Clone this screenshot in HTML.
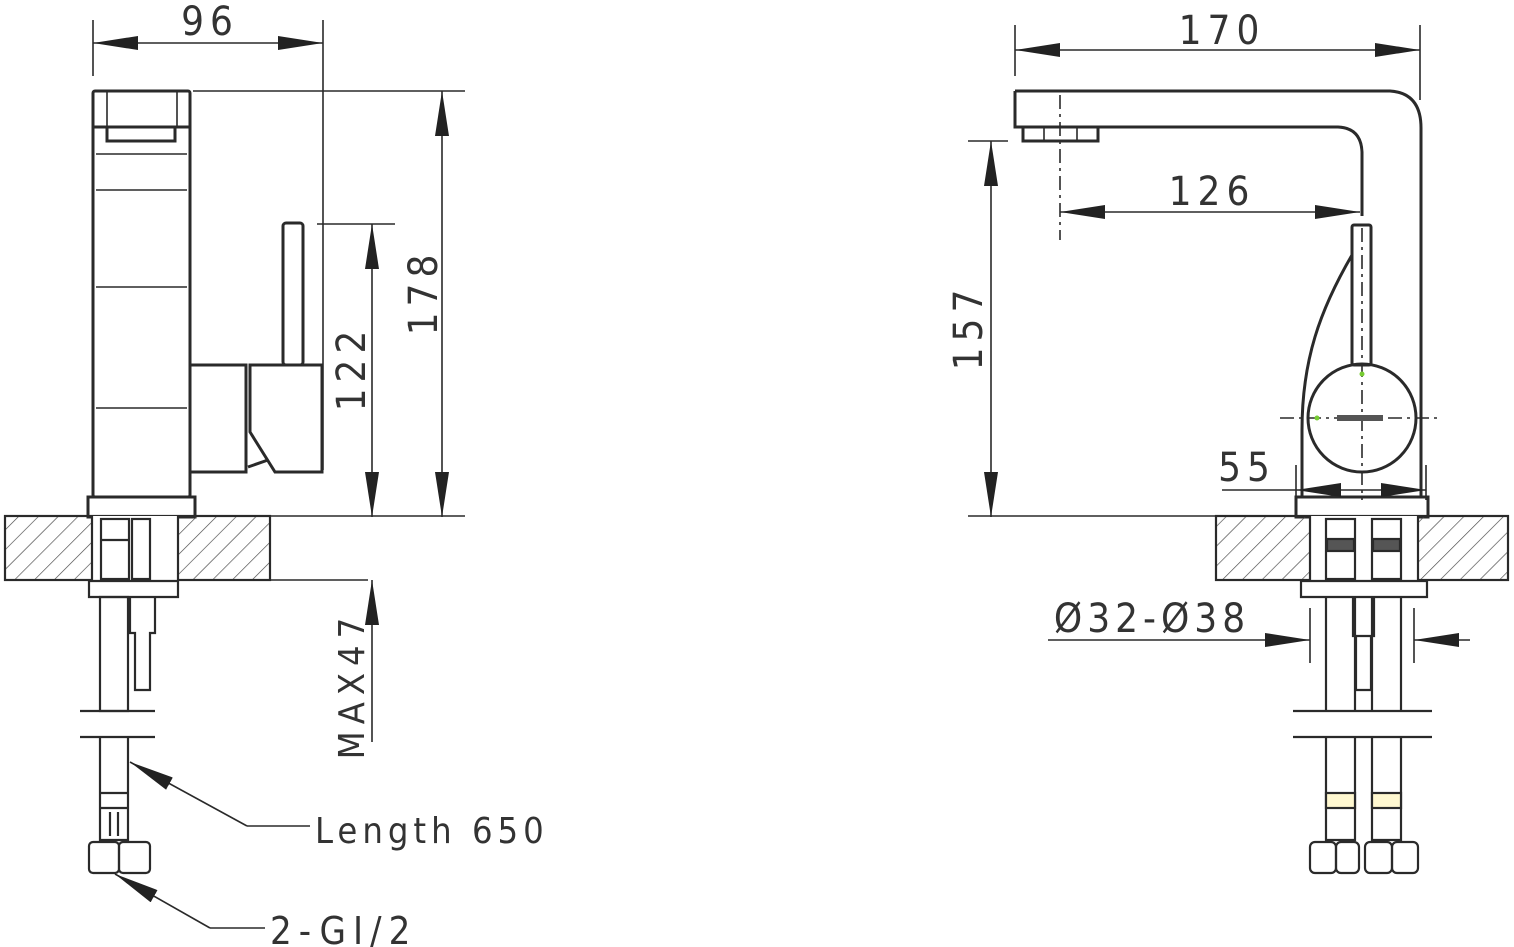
<!DOCTYPE html>
<html><head><meta charset="utf-8"><style>
html,body{margin:0;padding:0;background:#fff;}
svg{display:block;}
text{font-family:"DejaVu Sans Condensed","Liberation Sans",sans-serif;fill:#333;font-weight:300;}
</style></head><body>
<svg width="1514" height="947" viewBox="0 0 1514 947" xmlns="http://www.w3.org/2000/svg">
<defs>
<pattern id="h" patternUnits="userSpaceOnUse" width="14" height="14" patternTransform="rotate(45)">
<line x1="0" y1="0" x2="0" y2="14" stroke="#444" stroke-width="1.3"/>
</pattern>
<marker id="a" viewBox="0 0 45 14" refX="45" refY="7" markerWidth="45" markerHeight="14" markerUnits="userSpaceOnUse" orient="auto-start-reverse" preserveAspectRatio="none">
<path d="M0,0 L45,7 L0,14 Z" fill="#222"/>
</marker>
</defs>
<g fill="none" stroke="#2a2a2a" stroke-width="1.6">
<!-- LEFT VIEW -->
<line x1="93" y1="20" x2="93" y2="76"/>
<line x1="323" y1="20" x2="323" y2="470"/>
<line x1="93" y1="43" x2="323" y2="43" marker-start="url(#a)" marker-end="url(#a)"/>
<g stroke-width="3">
<rect x="93" y="91" width="97" height="406" rx="2"/>
<rect x="88" y="497" width="107" height="20"/>
<rect x="107" y="127" width="68" height="14"/>
<line x1="93" y1="127" x2="190" y2="127"/>
<rect x="283" y="223" width="20" height="142" rx="3"/>
<rect x="190" y="365" width="56" height="107"/>
<path d="M250,365 H322 V472 H275 L250,432 Z"/>
<path d="M248,467 L268,460"/>
</g>
<line x1="107" y1="91" x2="107" y2="127"/>
<line x1="177" y1="91" x2="177" y2="127"/>
<line x1="96" y1="154" x2="187" y2="154"/>
<line x1="96" y1="190" x2="187" y2="190"/>
<line x1="96" y1="287" x2="187" y2="287"/>
<line x1="96" y1="408" x2="187" y2="408"/>
<line x1="193" y1="91" x2="465" y2="91"/>
<line x1="442" y1="91" x2="442" y2="517" marker-start="url(#a)" marker-end="url(#a)"/>
<line x1="317" y1="224" x2="395" y2="224"/>
<line x1="372" y1="224" x2="372" y2="517" marker-start="url(#a)" marker-end="url(#a)"/>
<line x1="270" y1="516" x2="465" y2="516"/>
<line x1="178" y1="580" x2="368" y2="580"/>
<line x1="372" y1="742" x2="372" y2="580" marker-end="url(#a)"/>
<rect x="5" y="516" width="265" height="64" fill="url(#h)" stroke-width="2.2"/>
<rect x="92" y="516" width="86" height="64" fill="#fff" stroke="none"/>
<line x1="92" y1="516" x2="92" y2="580" stroke-width="2.2"/>
<line x1="178" y1="516" x2="178" y2="580" stroke-width="2.2"/>
<g stroke-width="2.2">
<rect x="101" y="519" width="28" height="60"/>
<rect x="132" y="519" width="18" height="60"/>
<line x1="101" y1="540" x2="129" y2="540"/>
<path d="M89,581 H178 V597 H89 Z"/>
<rect x="100" y="597" width="28" height="114"/>
<path d="M130,597 V633 H135 V690 H150 V633 H155 V597"/>
<line x1="80" y1="711" x2="155" y2="711"/>
<line x1="80" y1="737" x2="155" y2="737"/>
<path d="M100,737 V840 H128 V737"/>
<line x1="100" y1="793" x2="128" y2="793"/>
<line x1="100" y1="808" x2="128" y2="808"/>
<line x1="110" y1="812" x2="110" y2="836"/>
<line x1="118" y1="812" x2="118" y2="836"/>
<rect x="89" y="842" width="30" height="31" rx="4"/>
<rect x="119" y="842" width="31" height="31" rx="4"/>
</g>
<polyline points="247,826 310,826"/>
<line x1="247" y1="826" x2="130" y2="762" marker-end="url(#a)"/>
<polyline points="210,928 265,928"/>
<line x1="210" y1="928" x2="115" y2="874" marker-end="url(#a)"/>

<!-- RIGHT VIEW -->
<line x1="1015" y1="25" x2="1015" y2="76"/>
<line x1="1420" y1="25" x2="1420" y2="100"/>
<line x1="1015" y1="50" x2="1420" y2="50" marker-start="url(#a)" marker-end="url(#a)"/>
<g stroke-width="3">
<path d="M1015,91 H1390 Q1421,93 1421,128 V497"/>
<path d="M1015,91 V127 H1338 Q1361,128 1362,152 V216"/>
<rect x="1023" y="127" width="75" height="14"/>
<rect x="1352" y="225" width="19" height="140" rx="2"/>
<circle cx="1362" cy="418" r="54"/>
<path d="M1352,255 C1320,310 1302,360 1302,430 V497"/>
<rect x="1296" y="497" width="132" height="20"/>
</g>
<line x1="1044" y1="127" x2="1044" y2="141"/><line x1="1077" y1="127" x2="1077" y2="141"/>
<line x1="1060" y1="95" x2="1060" y2="240" stroke-dasharray="14,5,3,5"/>
<line x1="1362" y1="228" x2="1362" y2="500" stroke-dasharray="14,5,3,5"/>
<line x1="1280" y1="418" x2="1442" y2="418" stroke-dasharray="14,5,3,5"/>
<line x1="968" y1="141" x2="1008" y2="141"/>
<line x1="991" y1="141" x2="991" y2="517" marker-start="url(#a)" marker-end="url(#a)"/>
<line x1="1060" y1="212" x2="1360" y2="212" marker-start="url(#a)" marker-end="url(#a)"/>
<line x1="1296" y1="465" x2="1296" y2="500"/>
<line x1="1426" y1="465" x2="1426" y2="500"/>
<line x1="1222" y1="490" x2="1296" y2="490"/>
<line x1="1296" y1="490" x2="1426" y2="490" marker-start="url(#a)" marker-end="url(#a)"/>
<line x1="968" y1="516" x2="1216" y2="516"/>
<rect x="1216" y="516" width="292" height="64" fill="url(#h)" stroke-width="2.2"/>
<rect x="1310" y="516" width="108" height="64" fill="#fff" stroke="none"/>
<line x1="1310" y1="516" x2="1310" y2="580" stroke-width="2.2"/>
<line x1="1418" y1="516" x2="1418" y2="580" stroke-width="2.2"/>
<g stroke-width="2.2">
<rect x="1326" y="519" width="29" height="60"/>
<rect x="1372" y="519" width="29" height="60"/>
<rect x="1327" y="539" width="27" height="12" fill="#555"/>
<rect x="1373" y="539" width="27" height="12" fill="#555"/>
<path d="M1301,581 H1427 V597 H1301 Z"/>
<line x1="1326" y1="597" x2="1326" y2="711"/><line x1="1355" y1="597" x2="1355" y2="711"/>
<line x1="1372" y1="597" x2="1372" y2="711"/><line x1="1401" y1="597" x2="1401" y2="711"/>
<path d="M1353,597 V636 H1374 V597"/>
<path d="M1356,636 V690 H1371 V636"/>
<line x1="1293" y1="711" x2="1432" y2="711"/>
<line x1="1293" y1="737" x2="1432" y2="737"/>
<path d="M1326,737 V840 H1355 V737"/>
<path d="M1372,737 V840 H1401 V737"/>
<rect x="1326" y="793" width="29" height="15" fill="#fff8d0"/>
<rect x="1372" y="793" width="29" height="15" fill="#fff8d0"/>
<rect x="1310" y="842" width="26" height="31" rx="5"/>
<rect x="1336" y="842" width="23" height="31" rx="5"/>
<rect x="1365" y="842" width="27" height="31" rx="5"/>
<rect x="1392" y="842" width="26" height="31" rx="5"/>
</g>
<line x1="1310" y1="608" x2="1310" y2="663"/>
<line x1="1414" y1="608" x2="1414" y2="663"/>
<line x1="1048" y1="640" x2="1310" y2="640" marker-end="url(#a)"/>
<line x1="1470" y1="640" x2="1414" y2="640" marker-end="url(#a)"/>
</g>
<circle cx="1362" cy="374" r="2.5" fill="#7c3"/>
<circle cx="1317" cy="418" r="2.5" fill="#7c3"/>
<rect x="1337" y="415" width="46" height="6" fill="#555"/>

<g font-size="40">
<text x="210" y="35" text-anchor="middle" letter-spacing="6">96</text>
<text x="1222" y="44" text-anchor="middle" letter-spacing="6">170</text>
<text x="1212" y="205" text-anchor="middle" letter-spacing="6">126</text>
<text x="1247" y="481" text-anchor="middle" letter-spacing="6">55</text>
<text x="1152" y="632" text-anchor="middle" letter-spacing="5">Ø32-Ø38</text>
<text transform="translate(437,292) rotate(-90)" text-anchor="middle" letter-spacing="6">178</text>
<text transform="translate(365,368) rotate(-90)" text-anchor="middle" letter-spacing="6">122</text>
<text transform="translate(982,327) rotate(-90)" text-anchor="middle" letter-spacing="6">157</text>
<text transform="translate(364,685) rotate(-90)" text-anchor="middle" letter-spacing="7" font-size="36">MAX47</text>
<text x="315" y="843" font-size="36" letter-spacing="5">Length 650</text>
<text x="270" y="944" font-size="38" letter-spacing="7">2-GI/2</text>
</g>
</svg>
</body></html>
